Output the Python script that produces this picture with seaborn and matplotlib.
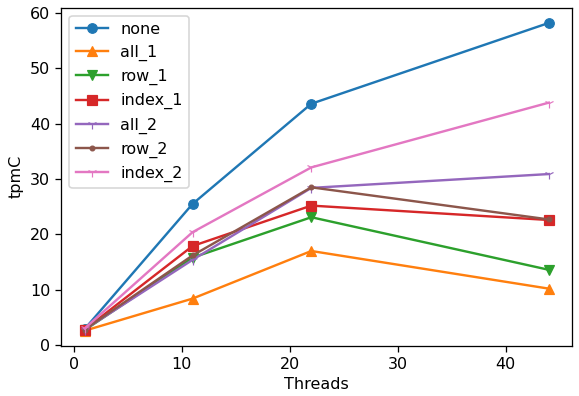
import matplotlib
matplotlib.use("Agg")
import matplotlib.pyplot as plt
import seaborn as sns

threads = [1, 11, 22, 44]
none = [2.9, 25.5, 43.6, 58.2]
all_1 = [2.6, 8.4, 17.0, 10.2]
row_1 = [2.7, 15.8, 23.1, 13.6]
index_1 = [2.8, 17.9, 25.2, 22.6]
all_2 = [2.8, 15.4, 28.4, 30.9]
row_2 = [2.8, 16.2, 28.5, 22.7]
index_2 = [3.0, 20.4, 32.1, 43.8]

series = {"none": none, "all_1": all_1, "row_1": row_1, "index_1": index_1,
          "all_2": all_2, "row_2": row_2, "index_2": index_2}
markers = {"none": "o", "all_1": "^", "row_1": "v", "index_1": "s",
           "all_2": "1", "row_2": ".", "index_2": "1"}

DPI = 115
fig = plt.figure(figsize=(579 / DPI, 396 / DPI), dpi=DPI)
ax = fig.add_axes([0.106, 0.126, 0.882, 0.855])
colors = sns.color_palette("tab10")
# mixed filled/line markers -> one call per series
for i, (name, vals) in enumerate(series.items()):
    sns.lineplot(x=threads, y=vals, marker=markers[name], color=colors[i],
                 markeredgecolor=colors[i], label=name, ax=ax)
ax.legend(loc="upper left")
ax.set_xlabel("Threads", labelpad=3)
ax.set_ylabel("tpmC")
fig.savefig("out.png", dpi=DPI)
